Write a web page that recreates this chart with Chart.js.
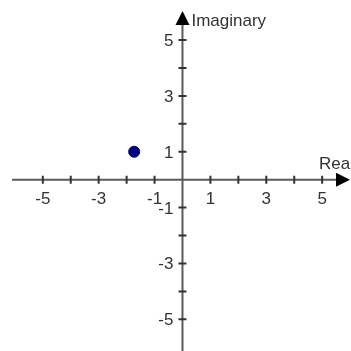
<!DOCTYPE html>
<html>
<head>
<meta charset="utf-8">
<script src="https://cdn.jsdelivr.net/npm/chart.js@4/dist/chart.umd.min.js"></script>
<style>
  html, body { margin: 0; padding: 0; background: #fff; }
  canvas { display: block; }
</style>
</head>
<body>
<canvas id="plane" width="351" height="351"></canvas>
<script>
// the plotted complex number z = re + im*i
var reValues = [-1.73];
var imValues = [1];

// integer tick marks on both axes, only odd ones get a label
var tickValues = [-5, -4, -3, -2, -1, 1, 2, 3, 4, 5];
var tickLabels = ['-5', '', '-3', '', '-1', '1', '', '3', '', '5'];

var axisNames = { x: 'Real', y: 'Imaginary' };

var font = '17px "Liberation Sans", Arial, sans-serif';
var textColor = '#333';
var axisColor = '#5a5a5a';

// draws the crossed axes with arrow heads, tick crosses and labels
var complexAxes = {
	id: 'complexAxes',
	beforeDatasetsDraw: function(chart) {
		var ctx = chart.ctx;
		var xs = chart.scales.x;
		var ys = chart.scales.y;
		var x0 = xs.getPixelForValue(0);
		var y0 = ys.getPixelForValue(0);
		var w = chart.width;
		var h = chart.height;

		ctx.save();
		ctx.strokeStyle = axisColor;
		ctx.lineWidth = 2;
		ctx.beginPath();
		ctx.moveTo(12, y0);
		ctx.lineTo(w - 12, y0);
		ctx.moveTo(x0, 20);
		ctx.lineTo(x0, h);
		ctx.stroke();

		// arrow heads
		ctx.fillStyle = '#000';
		ctx.beginPath();
		ctx.moveTo(x0, 11);
		ctx.lineTo(x0 - 7, 25);
		ctx.lineTo(x0 + 7, 25);
		ctx.closePath();
		ctx.fill();
		ctx.beginPath();
		ctx.moveTo(w - 1, y0);
		ctx.lineTo(w - 15, y0 - 7);
		ctx.lineTo(w - 15, y0 + 7);
		ctx.closePath();
		ctx.fill();

		// tick crosses
		ctx.strokeStyle = '#333';
		ctx.lineWidth = 2;
		ctx.beginPath();
		for(var i = 0; i < tickValues.length; i++) {
			var px = xs.getPixelForValue(tickValues[i]);
			var py = ys.getPixelForValue(tickValues[i]);
			ctx.moveTo(px, y0 - 4);
			ctx.lineTo(px, y0 + 4);
			ctx.moveTo(x0 - 4, py);
			ctx.lineTo(x0 + 4, py);
		}
		ctx.stroke();

		// tick labels
		ctx.font = font;
		ctx.fillStyle = textColor;
		ctx.textBaseline = 'alphabetic';
		for(var i = 0; i < tickValues.length; i++) {
			if(!tickLabels[i]) {
				continue;
			}
			ctx.textAlign = 'center';
			ctx.fillText(tickLabels[i], xs.getPixelForValue(tickValues[i]), y0 + 24);
			ctx.textAlign = 'right';
			ctx.fillText(tickLabels[i], x0 - 9, ys.getPixelForValue(tickValues[i]) + 6);
		}

		// axis names, the real one runs off the right edge
		ctx.textAlign = 'left';
		ctx.fillText(axisNames.y, x0 + 9, 26);
		ctx.fillText(axisNames.x, w - 32, y0 - 11);
		ctx.restore();
	}
};

var points = reValues.map(function(re, i) {
	return { x: re, y: imValues[i] };
});

new Chart(document.getElementById('plane').getContext('2d'), {
	type: 'scatter',
	data: {
		datasets: [{
			data: points,
			pointRadius: 5.5,
			pointBackgroundColor: '#00007f',
			pointBorderColor: '#00007f',
			pointBorderWidth: 1
		}]
	},
	options: {
		responsive: false,
		animation: false,
		layout: { padding: 0 },
		plugins: {
			legend: { display: false },
			tooltip: { enabled: false }
		},
		scales: {
			x: { type: 'linear', min: -6.3, max: 5.8, display: false },
			y: { type: 'linear', min: -5.9, max: 6.2, display: false }
		}
	},
	plugins: [complexAxes]
});
</script>
</body>
</html>
